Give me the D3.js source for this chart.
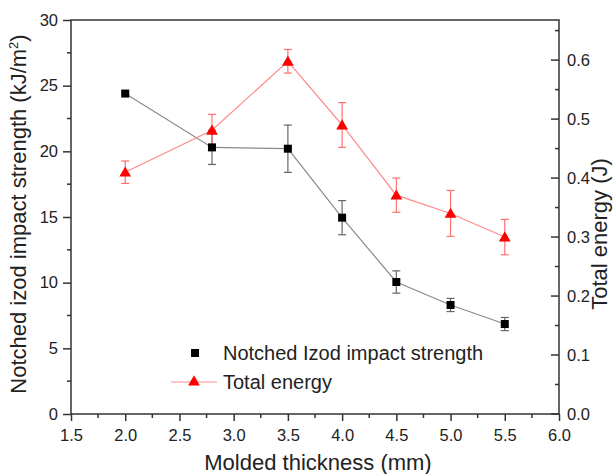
<!DOCTYPE html>
<html>
<head>
<meta charset="utf-8">
<script src="https://cdn.jsdelivr.net/npm/d3@7"></script>
<style>
  html, body { margin: 0; padding: 0; background: #fff; }
  svg { display: block; font-family: "Liberation Sans", Arial, sans-serif; }
</style>
</head>
<body>
<svg id="chart" width="616" height="474"></svg>
<script>
// Molded thickness (mm)
const thickness = [2.0, 2.8, 3.5, 4.0, 4.5, 5.0, 5.5];
// Notched Izod impact strength (kJ/m^2) and its standard deviation
const impactStrength = [24.4, 20.3, 20.2, 14.95, 10.05, 8.3, 6.85];
const impactErr = [0.1, 1.3, 1.8, 1.3, 0.85, 0.5, 0.5];
// Total energy (J) and its standard deviation
const totalEnergy = [0.41, 0.481, 0.598, 0.49, 0.371, 0.34, 0.30];
const energyErr = [0.019, 0.027, 0.02, 0.038, 0.029, 0.039, 0.03];

const xTicks = [1.5, 2.0, 2.5, 3.0, 3.5, 4.0, 4.5, 5.0, 5.5, 6.0];
const yLeftTicks = [0, 5, 10, 15, 20, 25, 30];
const yRightTicks = [0.0, 0.1, 0.2, 0.3, 0.4, 0.5, 0.6];

const svg = d3.select("#chart");
const plotLeft = 71, plotRight = 559, plotTop = 20, plotBottom = 414;

const x = d3.scaleLinear().domain([1.5, 6.0]).range([plotLeft, plotRight]);
const yL = d3.scaleLinear().domain([0, 30]).range([plotBottom, plotTop]);
const yR = d3.scaleLinear().domain([0, 0.668]).range([plotBottom, plotTop]);

const axisColor = "#333";
const textColor = "#222";
const tickFont = 16.5, titleFont = 22, legendFont = 20;

// frame
svg.append("rect")
  .attr("x", plotLeft).attr("y", plotTop)
  .attr("width", plotRight - plotLeft).attr("height", plotBottom - plotTop)
  .attr("fill", "none").attr("stroke", axisColor).attr("stroke-width", 1.5);

function steps(a, b, s) { const r = []; for (let v = a; v <= b + 1e-9; v += s) r.push(+v.toFixed(4)); return r; }

// bottom axis
const gx = svg.append("g").attr("transform", `translate(0,${plotBottom})`);
gx.call(d3.axisBottom(x).tickValues(xTicks).tickFormat(d3.format(".1f")).tickSize(7).tickPadding(8));
gx.append("g").selectAll("line").data(steps(1.75, 5.75, 0.5)).join("line")
  .attr("x1", d => x(d)).attr("x2", d => x(d)).attr("y1", 0).attr("y2", 4);

// left axis
const gyl = svg.append("g").attr("transform", `translate(${plotLeft},0)`);
gyl.call(d3.axisLeft(yL).tickValues(yLeftTicks).tickFormat(d3.format("d")).tickSize(8).tickPadding(5));
gyl.append("g").selectAll("line").data(steps(2.5, 27.5, 5)).join("line")
  .attr("y1", d => yL(d)).attr("y2", d => yL(d)).attr("x1", 0).attr("x2", -4);

// right axis (ticks point inward)
const gyr = svg.append("g").attr("transform", `translate(${plotRight},0)`);
gyr.call(d3.axisRight(yR).tickValues(yRightTicks).tickFormat(d3.format(".1f")).tickSize(0).tickPadding(8));
gyr.append("g").selectAll("line").data(yRightTicks).join("line")
  .attr("y1", d => yR(d)).attr("y2", d => yR(d)).attr("x1", 0).attr("x2", -8);
gyr.append("g").selectAll("line").data(steps(0.05, 0.65, 0.1)).join("line")
  .attr("y1", d => yR(d)).attr("y2", d => yR(d)).attr("x1", 0).attr("x2", -4);

[gx, gyl, gyr].forEach(g => {
  g.select(".domain").remove();
  g.selectAll("line").attr("stroke", axisColor).attr("stroke-width", 1.5);
  g.selectAll("text").attr("fill", textColor).attr("font-size", tickFont);
});

// axis titles
svg.append("text")
  .attr("x", 318).attr("y", 470)
  .attr("text-anchor", "middle").attr("font-size", titleFont).attr("fill", textColor)
  .text("Molded thickness (mm)");

const tl = svg.append("text")
  .attr("transform", `translate(26,214) rotate(-90)`)
  .attr("text-anchor", "middle").attr("font-size", titleFont).attr("fill", textColor);
tl.append("tspan").text("Notched izod impact strength (kJ/m");
tl.append("tspan").attr("font-size", 13).attr("dy", -8).text("2");
tl.append("tspan").attr("dy", 8).text(")");

svg.append("text")
  .attr("transform", `translate(607,234) rotate(-90)`)
  .attr("text-anchor", "middle").attr("font-size", titleFont).attr("fill", textColor)
  .text("Total energy (J)");

const impact = thickness.map((t, i) => ({ x: t, y: impactStrength[i], e: impactErr[i] }));
const energy = thickness.map((t, i) => ({ x: t, y: totalEnergy[i], e: energyErr[i] }));

// connecting lines
svg.append("path").datum(impact)
  .attr("fill", "none").attr("stroke", "#8a8a8a").attr("stroke-width", 1.2)
  .attr("d", d3.line().x(d => x(d.x)).y(d => yL(d.y)));
svg.append("path").datum(energy)
  .attr("fill", "none").attr("stroke", "#ff8a8a").attr("stroke-width", 1.2)
  .attr("d", d3.line().x(d => x(d.x)).y(d => yR(d.y)));

// error bars
function errorBars(data, yScale, color) {
  const g = svg.append("g").attr("stroke", color).attr("stroke-width", 1.2);
  g.selectAll("line.v").data(data).join("line").attr("class", "v")
    .attr("x1", d => x(d.x)).attr("x2", d => x(d.x))
    .attr("y1", d => yScale(d.y - d.e)).attr("y2", d => yScale(d.y + d.e));
  g.selectAll("line.t").data(data).join("line").attr("class", "t")
    .attr("x1", d => x(d.x) - 4).attr("x2", d => x(d.x) + 4)
    .attr("y1", d => yScale(d.y + d.e)).attr("y2", d => yScale(d.y + d.e));
  g.selectAll("line.b").data(data).join("line").attr("class", "b")
    .attr("x1", d => x(d.x) - 4).attr("x2", d => x(d.x) + 4)
    .attr("y1", d => yScale(d.y - d.e)).attr("y2", d => yScale(d.y - d.e));
}
errorBars(impact, yL, "#666");
errorBars(energy, yR, "#ff7070");

// markers
const sq = 8;
svg.append("g").selectAll("rect").data(impact).join("rect")
  .attr("x", d => x(d.x) - sq / 2).attr("y", d => yL(d.y) - sq / 2)
  .attr("width", sq).attr("height", sq).attr("fill", "#000");

const tri = d3.symbol().type(d3.symbolTriangle).size(60);
svg.append("g").selectAll("path").data(energy).join("path")
  .attr("transform", d => `translate(${x(d.x)},${yR(d.y) + 1})`)
  .attr("d", tri).attr("fill", "#ff0000");

// legend
const lg = svg.append("g");
lg.append("rect").attr("x", 191).attr("y", 349).attr("width", sq).attr("height", sq).attr("fill", "#000");
lg.append("text").attr("x", 223).attr("y", 360).attr("font-size", legendFont).attr("fill", textColor)
  .text("Notched Izod impact strength");
lg.append("line").attr("x1", 171).attr("x2", 217).attr("y1", 382).attr("y2", 382)
  .attr("stroke", "#ff8a8a").attr("stroke-width", 1.2);
lg.append("path").attr("transform", "translate(194,382)").attr("d", tri).attr("fill", "#ff0000");
lg.append("text").attr("x", 223).attr("y", 389).attr("font-size", legendFont).attr("fill", textColor)
  .text("Total energy");
</script>
</body>
</html>
